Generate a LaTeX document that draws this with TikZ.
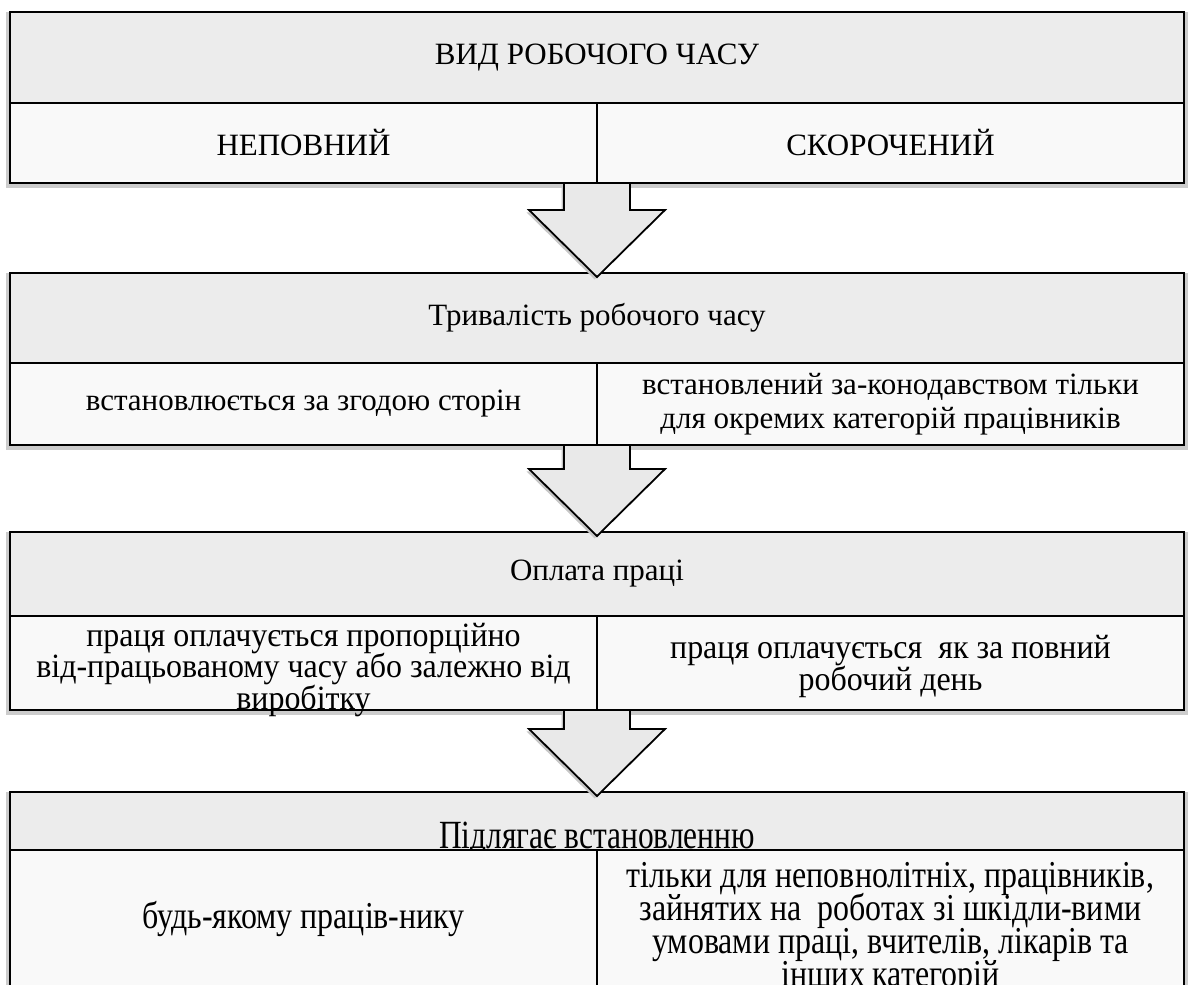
\documentclass[tikz,border=0pt]{standalone}
\usepackage{fontspec}
\setmainfont{LiberationSerif-Regular.ttf}
\newfontfamily\payfont{LiberationSerif-Regular.ttf}[FakeStretch=0.94]
\newfontfamily\estfont{LiberationSerif-Regular.ttf}[FakeStretch=0.84]
\newfontfamily\esthdrfont{LiberationSerif-Regular.ttf}[FakeStretch=0.785]
\newcommand\tightlines{\lineskiplimit=-20pt\relax}
\usepackage{tikz}
\usetikzlibrary{calc,positioning,shadows,backgrounds}
\tikzset{
  box/.style  = {draw, line width=0.9pt, outer sep=0pt, align=center, inner sep=2pt,
                 font=\fontsize{15.5pt}{17pt}\selectfont},
  hdr/.style  = {box, fill=gray!15, minimum width=587pt},
  cell/.style = {box, fill=gray!5, minimum width=293.5pt},
  paycell/.style = {cell, inner ysep=0pt, font=\payfont\fontsize{17pt}{16pt}\selectfont\tightlines},
  estcell/.style = {cell, inner ysep=0pt, font=\estfont\fontsize{19pt}{16.5pt}\selectfont\tightlines},
  halo/.style = {fill=gray!40},
  bigarrow/.style = {draw, line width=0.9pt, fill=gray!17, line join=miter,
                     drop shadow={shadow xshift=-1.2pt, shadow yshift=-1.2pt, fill=gray!45, opacity=1}},
}

\begin{document}
\begin{tikzpicture}[x=0.5pt, y=-0.5pt]
  \useasboundingbox (0,0) rectangle (1191,985);
  \clip (0,0) rectangle (1191,985);
  \node[hdr, minimum height=45.5pt, anchor=north] (kind) at (597,12) {ВИД РОБОЧОГО ЧАСУ};
  \node[cell, minimum height=40pt, below right=0pt of kind.south west] (part) {НЕПОВНИЙ};
  \node[cell, minimum height=40pt, right=0pt of part] (short) {СКОРОЧЕНИЙ};

  \node[hdr, minimum height=45pt, below=45pt of part.south east] (dur) {Тривалість робочого часу};
  \node[cell, minimum height=41pt, below right=0pt of dur.south west] (durpart) {встановлюється за згодою сторін};
  \node[cell, minimum height=41pt, right=0pt of durpart] (durshort) {встановлений за-конодавством тільки\\для окремих категорій працівників};

  \node[hdr, minimum height=42pt, below=43.5pt of durpart.south east] (pay) {Оплата праці};
  \node[paycell, text height=46.5pt, text depth=0.5pt,
        font=\payfont\fontsize{17pt}{15.75pt}\selectfont\tightlines,
        below right=0pt of pay.south west] (paypart) {праця оплачується пропорційно\\від-працьованому часу або залежно від\\виробітку};
  \node[paycell, text height=37pt, text depth=10pt, right=0pt of paypart] (payshort) {праця оплачується \ як за повний\\робочий день};

  \node[hdr, minimum height=29pt, inner ysep=0pt, text height=28pt, text depth=1pt,
        font=\esthdrfont\fontsize{20pt}{20pt}\selectfont, below=41pt of paypart.south east] (est) {Підлягає встановленню};
  \node[estcell, text height=39pt, text depth=33.5pt, below right=0pt of est.south west] (estpart) {будь-якому праців-нику};
  \node[estcell, text height=68pt, text depth=4.5pt, right=0pt of estpart] (estshort) {тільки для неповнолітніх, працівників,\\зайнятих на \ роботах зі шкідли-вими\\умовами праці, вчителів, лікарів та\\інших категорій};

  \begin{scope}[on background layer]
    \fill[halo] ($(kind.north west)+(-4,0)$) rectangle ($(short.south east)+(4,5)$);
    \fill[halo] ($(dur.north west)+(-4,0)$) rectangle ($(durshort.south east)+(4,5)$);
    \fill[halo] ($(pay.north west)+(-4,0)$) rectangle ($(payshort.south east)+(4,5)$);
    \fill[halo] ($(est.north west)+(-4,0)$) rectangle ($(estshort.south east)+(4,5)$);
  \end{scope}

  \draw[bigarrow] ($(part.south east)+(-33,0)$) |- ($(dur.north)+(-68,-63)$) -- ($(dur.north)+(0,4)$)
    -- ($(dur.north)+(68,-63)$) -| ($(part.south east)+(33,0)$) -- cycle;
  \draw[bigarrow] ($(durpart.south east)+(-33,0)$) |- ($(pay.north)+(-68,-63)$) -- ($(pay.north)+(0,4)$)
    -- ($(pay.north)+(68,-63)$) -| ($(durpart.south east)+(33,0)$) -- cycle;
  \draw[bigarrow] ($(paypart.south east)+(-33,0)$) |- ($(est.north)+(-68,-63)$) -- ($(est.north)+(0,4)$)
    -- ($(est.north)+(68,-63)$) -| ($(paypart.south east)+(33,0)$) -- cycle;
\end{tikzpicture}
\end{document}
